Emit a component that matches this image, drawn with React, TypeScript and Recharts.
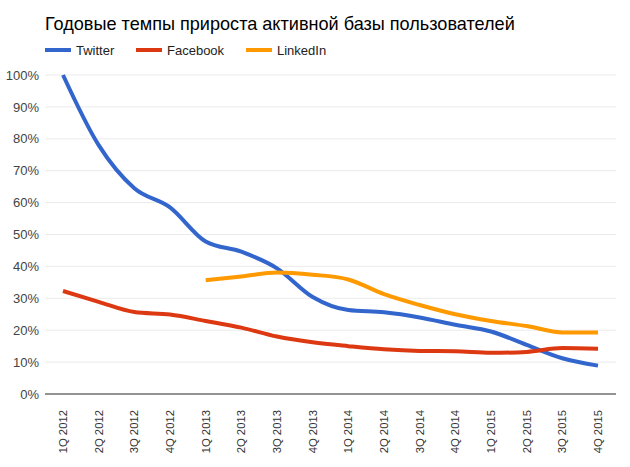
import React from "react";
import {
  LineChart,
  Line,
  XAxis,
  YAxis,
  CartesianGrid,
} from "recharts";

const quarters = [
  "1Q 2012", "2Q 2012", "3Q 2012", "4Q 2012",
  "1Q 2013", "2Q 2013", "3Q 2013", "4Q 2013",
  "1Q 2014", "2Q 2014", "3Q 2014", "4Q 2014",
  "1Q 2015", "2Q 2015", "3Q 2015", "4Q 2015",
];

const twitter = [100, 78, 64.5, 58.5, 47.8, 44.6, 39.4, 30.4, 26.3, 25.6, 24, 21.7, 19.6, 15.4, 11.2, 8.9];
const facebook = [32.3, 28.9, 25.7, 24.9, 22.9, 20.8, 18, 16.2, 15, 14, 13.5, 13.4, 12.9, 13.2, 14.4, 14.2];
const linkedin = [null, null, null, null, 35.7, 36.8, 38.1, 37.4, 35.9, 31.3, 27.9, 25, 22.9, 21.3, 19.3, 19.3];

const yTicks = [0, 10, 20, 30, 40, 50, 60, 70, 80, 90, 100];

const COLORS = {
  twitter: "#3366cc",
  facebook: "#dc3912",
  linkedin: "#ff9900",
};

const FONT = "'Liberation Sans', Arial, sans-serif";

const data = quarters.map((q, i) => ({
  q,
  twitter: twitter[i],
  facebook: facebook[i],
  linkedin: linkedin[i],
}));

const legendItems = [
  { name: "Twitter", color: COLORS.twitter, left: 45 },
  { name: "Facebook", color: COLORS.facebook, left: 136 },
  { name: "LinkedIn", color: COLORS.linkedin, left: 246 },
];

function QuarterTick(props: any) {
  const { x, y, payload } = props;
  return (
    <text
      x={x + 4}
      y={y}
      transform={`rotate(-90, ${x + 4}, ${y})`}
      textAnchor="end"
      fontSize={11.3}
      fill="#333"
      fontFamily={FONT}
    >
      {payload.value}
    </text>
  );
}

export default function App() {
  return (
    <div
      style={{
        position: "absolute",
        left: 0,
        top: 0,
        width: 630,
        height: 467,
        background: "#fff",
        fontFamily: FONT,
      }}
    >
      <div
        style={{
          position: "absolute",
          left: 45,
          top: 14,
          fontSize: 18.1,
          color: "#000",
          whiteSpace: "nowrap",
        }}
      >
        Годовые темпы прироста активной базы пользователей
      </div>
      {legendItems.map((it) => (
        <div
          key={it.name}
          style={{
            position: "absolute",
            left: it.left,
            top: 42,
            height: 16,
            display: "flex",
            alignItems: "center",
            fontSize: 13,
            color: "#222",
          }}
        >
          <span
            style={{
              display: "inline-block",
              width: 26,
              height: 4,
              background: it.color,
              marginRight: 5,
            }}
          />
          {it.name}
        </div>
      ))}
      <LineChart
        width={630}
        height={467}
        data={data}
        margin={{ top: 75, right: 14, bottom: 13, left: 0 }}
      >
        <CartesianGrid vertical={false} stroke="#ebebeb" />
        <XAxis
          dataKey="q"
          interval={0}
          height={60}
          tickLine={false}
          axisLine={{ stroke: "#333" }}
          padding={{ left: 18, right: 18 }}
          tick={<QuarterTick />}
          tickMargin={10}
        />
        <YAxis
          width={45}
          domain={[0, 100]}
          ticks={yTicks}
          tickFormatter={(v) => `${v}%`}
          tickLine={false}
          axisLine={false}
          tickSize={4}
          tick={{ fontSize: 13, fill: "#444", fontFamily: FONT }}
        />
        <Line
          type="monotone"
          dataKey="twitter"
          name="Twitter"
          stroke={COLORS.twitter}
          strokeWidth={4}
          dot={false}
          isAnimationActive={false}
        />
        <Line
          type="monotone"
          dataKey="facebook"
          name="Facebook"
          stroke={COLORS.facebook}
          strokeWidth={4}
          dot={false}
          isAnimationActive={false}
        />
        <Line
          type="monotone"
          dataKey="linkedin"
          name="LinkedIn"
          stroke={COLORS.linkedin}
          strokeWidth={4}
          dot={false}
          isAnimationActive={false}
        />
      </LineChart>
    </div>
  );
}
